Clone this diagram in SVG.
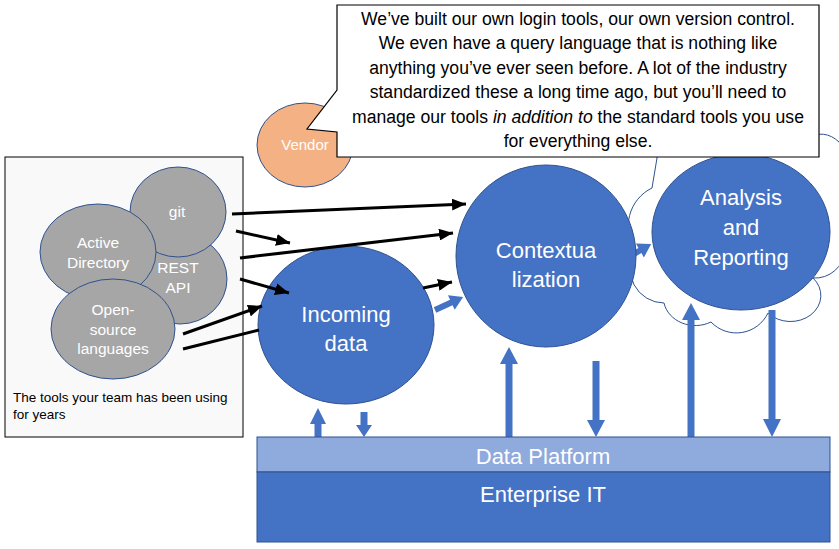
<svg xmlns="http://www.w3.org/2000/svg" width="839" height="549" viewBox="0 0 839 549">
<defs>
<style>
.t{font-family:"Liberation Sans",Arial,sans-serif;text-anchor:middle;fill:#fff}
.gray{fill:#a6a6a6;stroke:#2f528f;stroke-width:1}
.blue{fill:#4472c4;stroke:#2f528f;stroke-width:1}
.ba{fill:#4472c4;stroke:none}
.ln{stroke:#000;stroke-width:3;fill:none}
.big{font-size:22px}
.sm{font-size:15.5px}
.co{font-family:"Liberation Sans",Arial,sans-serif;font-size:17.6px;text-anchor:middle;fill:#000}
</style>
<marker id="ah" markerUnits="userSpaceOnUse" markerWidth="14" markerHeight="12" viewBox="0 0 14 12" refX="14" refY="6" orient="auto">
<path d="M0,0 L14,6 L0,12 Z" fill="#000"/>
</marker>
</defs>
<rect width="839" height="549" fill="#fff"/>

<g id="tools-box">
<rect x="5" y="157" width="238" height="280" fill="#f9f9f9" stroke="#000" stroke-width="1"/>
<text x="13" y="402" font-family="'Liberation Sans',Arial,sans-serif" font-size="13.5" fill="#000">The tools your team has been using</text>
<text x="13" y="419" font-family="'Liberation Sans',Arial,sans-serif" font-size="13.5" fill="#000">for years</text>
</g>
<g id="rest-api">
<ellipse class="gray" cx="180" cy="279" rx="47" ry="45"/>
<text class="t sm" x="178" y="273">REST</text>
<text class="t sm" x="178" y="293">API</text>
</g>
<g id="git">
<ellipse class="gray" cx="178" cy="212" rx="48" ry="45"/>
<text class="t sm" x="177" y="217">git</text>
</g>
<g id="active-directory">
<ellipse class="gray" cx="98" cy="252" rx="58" ry="48"/>
<text class="t sm" x="98" y="248">Active</text>
<text class="t sm" x="98" y="268">Directory</text>
</g>
<g id="open-source">
<ellipse class="gray" cx="113" cy="329" rx="62" ry="50"/>
<text class="t sm" x="113" y="315">Open-</text>
<text class="t sm" x="113" y="335">source</text>
<text class="t sm" x="113" y="354">languages</text>
</g>

<g id="vendor">
<ellipse cx="305" cy="145" rx="48" ry="42" fill="#f4b183" stroke="#2f528f" stroke-width="1"/>
<text class="t" x="305" y="150" font-size="15">Vendor</text>
</g>

<g id="cloud">
<path d="M652,188 A42,42 0 0 0 636,250 A34,34 0 0 0 664,303 A32,28 0 0 0 711,322 A35,35 0 0 0 768,313 A28,24 0 0 0 813,278 A30,30 0 0 0 845,250 L845,150 A30,40 0 0 0 815,135 L660,140 Z" fill="#fff" stroke="#2f528f" stroke-width="1"/>
</g>

<g id="connectors-under">
<path class="ba" transform="translate(435,310) rotate(-24.9)" d="M0,-3 H18 V-8 L31,0 L18,8 V3 H0 Z"/>
<path class="ba" transform="translate(620,262) rotate(-30)" d="M0,-3 H23 V-8 L36,0 L23,8 V3 H0 Z"/>
</g>

<g id="incoming-data">
<ellipse class="blue" cx="346" cy="325" rx="88" ry="79"/>
<text class="t big" x="346" y="322">Incoming</text>
<text class="t big" x="346" y="351">data</text>
</g>
<g id="contextualization">
<ellipse class="blue" cx="546" cy="256" rx="90" ry="91"/>
<text class="t big" x="546" y="258">Contextua</text>
<text class="t big" x="546" y="287">lization</text>
</g>
<g id="analysis">
<ellipse class="blue" cx="741" cy="232" rx="89" ry="78"/>
<text class="t big" x="741" y="205">Analysis</text>
<text class="t big" x="741" y="235">and</text>
<text class="t big" x="741" y="265">Reporting</text>
</g>

<g id="connectors">
<line class="ln" x1="232" y1="214" x2="466" y2="204" marker-end="url(#ah)"/>
<line class="ln" x1="236" y1="231" x2="290" y2="243" marker-end="url(#ah)"/>
<line class="ln" x1="240" y1="258" x2="453" y2="233" marker-end="url(#ah)"/>
<line class="ln" x1="240" y1="279" x2="289" y2="293" marker-end="url(#ah)"/>
<line class="ln" x1="183" y1="334" x2="262" y2="306" marker-end="url(#ah)"/>
<line class="ln" x1="183" y1="349" x2="259" y2="330"/>
<line class="ln" x1="423" y1="288" x2="452" y2="282" marker-end="url(#ah)"/>
<path class="ba" d="M314.5,437 V424 H310 L318,408 L326,424 H321.5 V437 Z"/>
<path class="ba" d="M360.5,412 V425 H356 L364,437 L372,425 H367.5 V412 Z"/>
<path class="ba" d="M505.5,437 V364 H500 L509,347 L518,364 H512.5 V437 Z"/>
<path class="ba" d="M592.5,361 V420 H587 L596,437 L605,420 H599.5 V361 Z"/>
<path class="ba" d="M687.5,437 V320 H682 L691,303 L700,320 H694.5 V437 Z"/>
<path class="ba" d="M768.5,310 V419 H763 L772,437 L781,419 H775.5 V310 Z"/>
</g>

<g id="data-platform">
<rect x="257" y="437" width="573" height="35" fill="#8faadc" stroke="#2f528f" stroke-width="1"/>
<text class="t big" x="543" y="464">Data Platform</text>
</g>
<g id="enterprise-it">
<rect x="257" y="472" width="573" height="70" fill="#4472c4" stroke="#2f528f" stroke-width="1"/>
<text class="t big" x="543" y="502">Enterprise IT</text>
</g>

<g id="callout">
<path d="M337,5 H819 V157 H337 V132 L307,129 L337,90 Z" fill="#fff" stroke="#000" stroke-width="1.2"/>
<text class="co" x="578" y="25">We’ve built our own login tools, our own version control.</text>
<text class="co" x="578" y="49">We even have a query language that is nothing like</text>
<text class="co" x="578" y="74">anything you’ve ever seen before. A lot of the industry</text>
<text class="co" x="578" y="98">standardized these a long time ago, but you’ll need to</text>
<text class="co" x="578" y="123">manage our tools <tspan font-style="italic">in addition to</tspan> the standard tools you use</text>
<text class="co" x="578" y="147">for everything else.</text>
</g>
</svg>
